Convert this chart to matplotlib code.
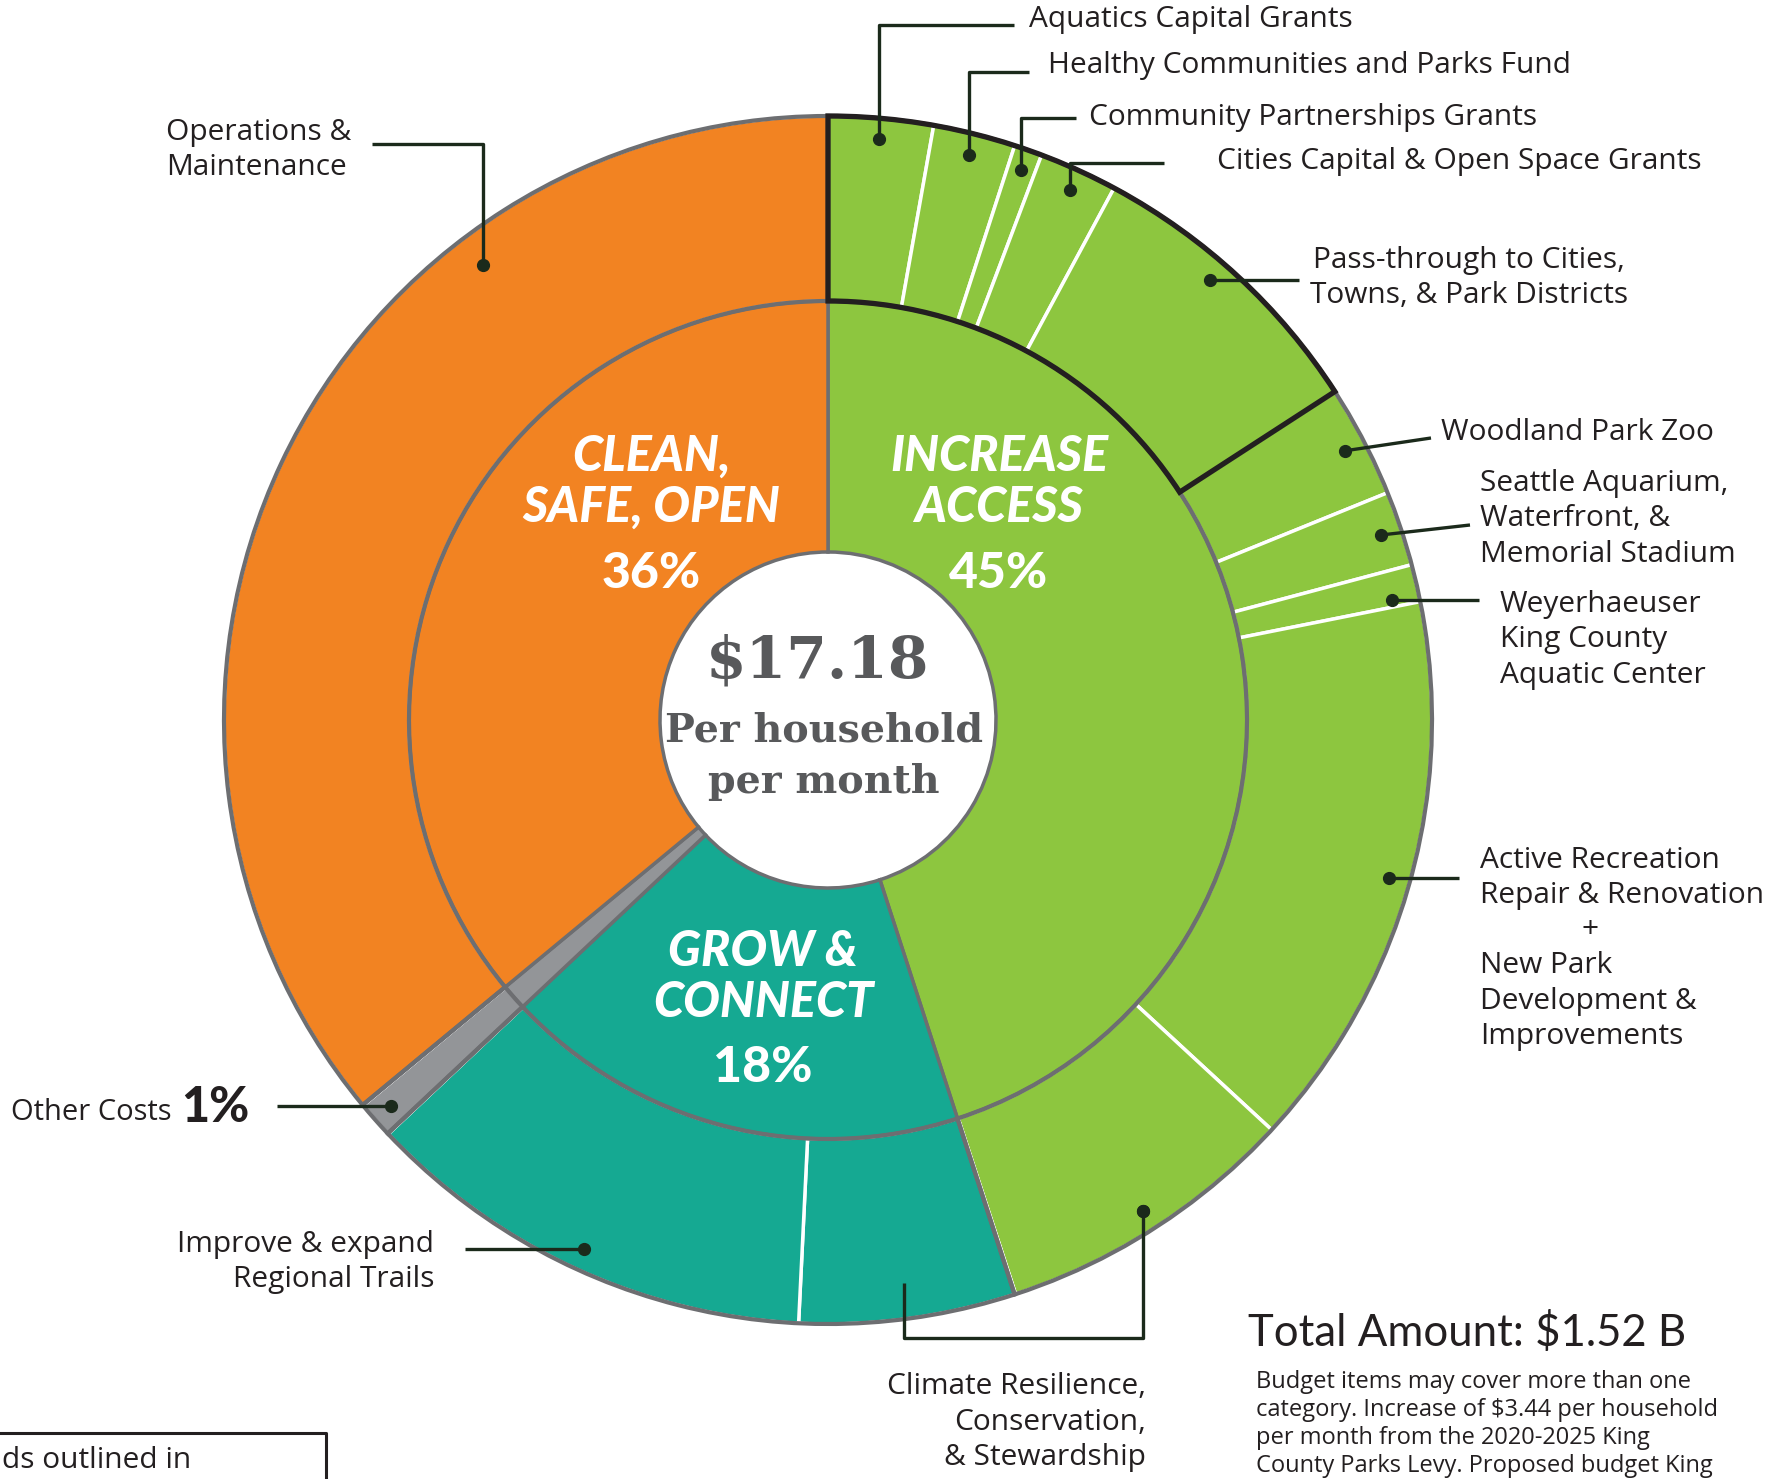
import numpy as np
import matplotlib.pyplot as plt

W, H = 1767, 1479

# inner ring: the four levy categories (percent)
categories = ['INCREASE\nACCESS', 'GROW &\nCONNECT', 'Other', 'CLEAN,\nSAFE, OPEN']
category_pct = [45, 18, 1, 36]
category_colors = ['#8DC63F', '#15A992', '#939598', '#F28322']

# outer ring: budget items (percent of total), clockwise from 12 o'clock
items = ['Aquatics Capital Grants', 'Healthy Communities and Parks Fund',
         'Community Partnerships Grants', 'Cities Capital & Open Space Grants',
         'Pass-through to Cities,\nTowns, & Park Districts', 'Woodland Park Zoo',
         'Seattle Aquarium,\nWaterfront, &\nMemorial Stadium',
         'Weyerhaeuser\nKing County\nAquatic Center',
         'Active Recreation\nRepair & Renovation',
         'Climate (green)', 'Climate (teal)',
         'Improve & expand\nRegional Trails', 'Other Costs', 'Operations &\nMaintenance']
item_pct = [2.8, 2.2, 0.75, 2.1, 8.0, 3.0, 2.0, 1.0, 15.0, 8.1, 5.8, 12.2, 1.0, 36.0]
item_cat = [0, 0, 0, 0, 0, 0, 0, 0, 0, 0, 1, 1, 2, 3]
n_outlined = 5   # first five items are outlined in black
new_park = 'New Park\nDevelopment &\nImprovements'
climate = 'Climate Resilience,\nConservation,\n& Stewardship'

per_household = '$17.18'
total_amount = 'Total Amount: $1.52 B'
note = ('Budget items may cover more than one\n'
        'category. Increase of $3.44 per household\n'
        'per month from the 2020-2025 King\n'
        'County Parks Levy. Proposed budget King')

# geometry (pixels, y measured from the top of the picture)
CX, CY = 828, 720
R_OUT, R_MID, R_HOLE = 604, 419, 168
EDGE = '#6D6E71'
INK = '#231F20'
LEAD = '#1B2A1B'
LABEL_FONT = 'Open Sans'
LSIZE = 21.5


def up(y):
    return H - y


fig = plt.figure(figsize=(W / 100, H / 100), dpi=100)
ax = fig.add_axes([0, 0, 1, 1])
center = (CX, up(CY))

# outer ring
outer, _ = ax.pie(item_pct, radius=R_OUT, center=center, startangle=90,
                  counterclock=False,
                  colors=[category_colors[c] for c in item_cat],
                  wedgeprops=dict(width=R_OUT - R_MID, edgecolor='white',
                                  linewidth=2.5))
# inner ring
ax.pie(category_pct, radius=R_MID, center=center, startangle=90,
       counterclock=False, colors=category_colors,
       wedgeprops=dict(width=R_MID - R_HOLE, edgecolor=EDGE, linewidth=2.5))
# category outline across the outer ring
ax.pie(category_pct, radius=R_OUT, center=center, startangle=90,
       counterclock=False,
       wedgeprops=dict(width=R_OUT - R_MID, fill=False, edgecolor=EDGE,
                       linewidth=3))
# black outline around the first funds
outlined = sum(item_pct[:n_outlined])
box, _ = ax.pie([outlined, 100 - outlined], radius=R_OUT, center=center,
                startangle=90, counterclock=False,
                wedgeprops=dict(width=R_OUT - R_MID, fill=False,
                                edgecolor=INK, linewidth=3.8))
box[1].set_visible(False)

ax.set_xlim(0, W)
ax.set_ylim(0, H)
ax.set_aspect('equal')
ax.axis('off')


def anchor(i, angle=None, frac=0.965):
    w = outer[i]
    a = np.deg2rad((w.theta1 + w.theta2) / 2 if angle is None else angle)
    return CX + frac * R_OUT * np.cos(a), up(CY) + frac * R_OUT * np.sin(a)


def leader(points):
    xs = [p[0] for p in points]
    ys = [p[1] for p in points]
    ax.plot(xs, ys, color=LEAD, lw=2.4, solid_capstyle='butt', zorder=5)
    ax.plot(xs[0], ys[0], 'o', color=LEAD, ms=8.5, zorder=6)


def label(x, y, s, ha='left', size=LSIZE, **kw):
    ax.text(x, up(y), s, ha=ha, va='center', fontsize=size,
            family=LABEL_FONT, color=INK, linespacing=1.3, **kw)


# top grants: up, then right
top_labels = [(0, 25, 1014, 1029, 19), (1, 72, 1029, 1048, 66),
              (2, 118, 1076, 1089, 118), (3, 163, 1164, 1217, 161)]
for i, ly, ex, tx, ty in top_labels:
    ax_, ay_ = anchor(i)
    leader([(ax_, ay_), (ax_, up(ly)), (ex, up(ly))])
    label(tx, ty, items[i])

# right side
ax_, ay_ = anchor(4, angle=90 - 41.0)
leader([(ax_, ay_), (1299, ay_)])
label(1310, 278, items[4], ha='left', multialignment='center')

ax_, ay_ = anchor(5)
leader([(ax_, ay_), (1431, up(438))])
label(1441, 433, items[5])

ax_, ay_ = anchor(6)
leader([(ax_, ay_), (1470, up(525))])
label(1480, 519, items[6])

ax_, ay_ = anchor(7, angle=90 - 78.0, frac=0.955)
leader([(ax_, ay_), (1479, ay_)])
label(1500, 640, items[7])

ax_, ay_ = anchor(8)
leader([(ax_, ay_), (1459, ay_)])
label(1480, 878, items[8])
label(1590, 929, '+', ha='center')
label(1480, 1001, new_park)

# climate resilience spans both rings
gx, gy = anchor(9)
tx_, ty_ = anchor(10, frac=0.94)
leader([(gx, gy), (gx, up(1338)), (tx_, up(1338)), (tx_, ty_)])
ax.plot(gx, gy, 'o', color=LEAD, ms=8.5, zorder=6)
label(1146, 1422, climate, ha='right', multialignment='right')

ax_, ay_ = anchor(11)
leader([(ax_, ay_), (465, ay_)])
label(434, 1262, items[11], ha='right', multialignment='right')

ax_, ay_ = anchor(12)
leader([(ax_, ay_), (277, ay_)])
label(11, 1113, items[12], size=21)
ax.text(181, up(1108), f'{category_pct[2]}%', ha='left', va='center',
        fontsize=35, fontweight='black', family='Lato', color=INK)

ax_, ay_ = anchor(13, angle=127.2, frac=0.945)
leader([(ax_, ay_), (ax_, up(144)), (372, up(144))])
label(166, 150, items[13])

# category labels in the inner ring
cat_pos = [(999, 482), (763, 977), None, (651, 482)]
for name, pct, pos in zip(categories, category_pct, cat_pos):
    if pos is None:
        continue
    ax.text(pos[0], up(pos[1]), name, ha='center', va='center', fontsize=35,
            fontweight='black', style='italic', family='Lato', color='white',
            linespacing=1.16)
    ax.text(pos[0], up(pos[1] + 91), f'{pct}%', ha='center', va='center',
            fontsize=36, fontweight='black', family='Lato', color='white')

# centre
ax.text(818, up(661), per_household, ha='center', va='center', fontsize=42,
        fontweight='bold', family='DejaVu Serif', color='#58595B')
ax.text(824, up(756), 'Per household\nper month', ha='center', va='center',
        fontsize=28.5, fontweight='bold', family='DejaVu Serif', color='#58595B',
        linespacing=1.45)

# total and note
ax.text(1248, up(1333), total_amount, ha='left', va='center', fontsize=31.5,
        family='Lato', color=INK)
ax.text(1256, up(1370), note, ha='left', va='top', fontsize=17,
        family='Open Sans', color=INK, linespacing=1.22)

# cut-off legend box at the bottom left
ax.plot([0, 326, 326], [up(1433), up(1433), up(1480)], color=INK, lw=2.2)
ax.text(2, up(1460), 'ds outlined in', ha='left', va='center', fontsize=LSIZE,
        family=LABEL_FONT, color=INK)

fig.savefig('out.png', dpi=100)
